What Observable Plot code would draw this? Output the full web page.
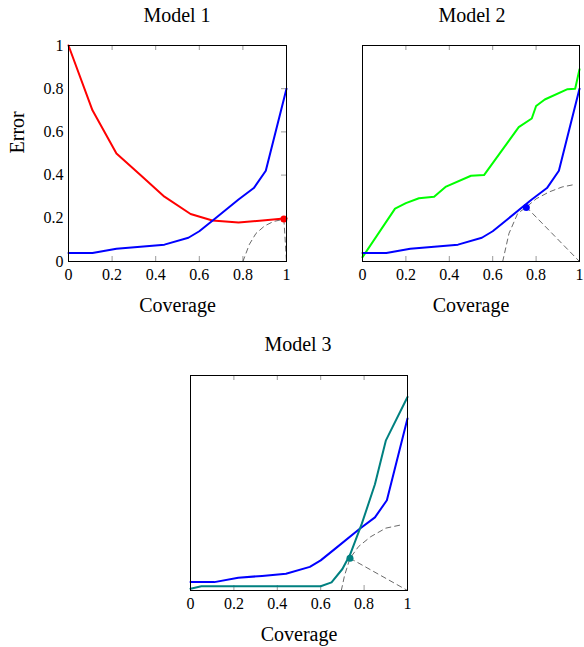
<!DOCTYPE html>
<html><head><meta charset="utf-8">
<script src="https://cdn.jsdelivr.net/npm/d3@7"></script>
<script src="https://cdn.jsdelivr.net/npm/@observablehq/plot@0.6"></script>
<style>
body{margin:0;background:#fff;font-family:"Liberation Serif",serif;}
#root{position:relative;width:584px;height:647px;overflow:hidden;}
.title{position:absolute;font-size:20px;line-height:20px;text-align:center;width:200px;color:#000;}
.panel{position:absolute;}
.panel svg{max-width:none !important;display:block;}
</style></head><body><div id="root"></div>
<script>
// ---- tick labels ----
const coverageTicks = [0, 0.2, 0.4, 0.6, 0.8, 1];
const errorTicks = [0, 0.2, 0.4, 0.6, 0.8, 1];
const innerTicks = [0.2, 0.4, 0.6, 0.8];
const titles = ["Model 1", "Model 2", "Model 3"];

// ---- shared blue series (all panels) ----
const blueX = [0, 0.11, 0.22, 0.33, 0.44, 0.55, 0.60, 0.67, 0.78, 0.85, 0.905, 1];
const blueY = [0.039, 0.039, 0.059, 0.068, 0.078, 0.11, 0.14, 0.197, 0.287, 0.34, 0.42, 0.80];

// ---- Model 1 red ----
const redX = [0, 0.11, 0.22, 0.33, 0.44, 0.56, 0.66, 0.78, 0.89, 1];
const redY = [1, 0.70, 0.50, 0.40, 0.30, 0.22, 0.19, 0.18, 0.19, 0.20];
const m1CurveX = [0.80, 0.83, 0.86, 0.90, 0.94, 0.988];
const m1CurveY = [0, 0.08, 0.13, 0.165, 0.185, 0.196];
const m1SegX = [0.988, 1];
const m1SegY = [0.196, 0];
const m1Dot = [0.988, 0.197];

// ---- Model 2 green ----
const greenX = [0, 0.15, 0.2, 0.26, 0.33, 0.385, 0.5, 0.56, 0.72, 0.78, 0.80, 0.84, 0.945, 0.98, 1];
const greenY = [0.02, 0.245, 0.27, 0.293, 0.30, 0.347, 0.397, 0.40, 0.622, 0.662, 0.72, 0.75, 0.798, 0.80, 0.89];
const m2CurveX = [0.646, 0.675, 0.715, 0.755, 0.80, 0.86, 0.92, 0.97];
const m2CurveY = [0, 0.13, 0.222, 0.252, 0.29, 0.322, 0.345, 0.355];
const m2SegX = [0.755, 1];
const m2SegY = [0.252, 0];
const m2Dot = [0.755, 0.25];

// ---- Model 3 teal ----
const tealX = [0, 0.05, 0.60, 0.65, 0.70, 0.735, 0.79, 0.85, 0.90, 1];
const tealY = [0.008, 0.02, 0.02, 0.038, 0.1, 0.166, 0.312, 0.494, 0.697, 0.90];
const m3CurveX = [0.695, 0.71, 0.735, 0.775, 0.83, 0.90, 0.97];
const m3CurveY = [0, 0.07, 0.15, 0.205, 0.25, 0.29, 0.305];
const m3SegX = [0.735, 1];
const m3SegY = [0.15, 0];
const m3Dot = [0.735, 0.15];

const zip = (xs, ys) => xs.map((x, i) => ({x, y: ys[i]}));

function panel({width, height, mt, mb, ml, mr, showY, series, curve, seg, dot, dotColor}) {
  const FW = width - ml - mr, FH = height - mt - mb;
  const marks = [
    Plot.tickX(innerTicks, {x: d => d, stroke: "#9a9a9a", strokeWidth: 1, insetTop: FH - 5}),
    Plot.tickX(innerTicks, {x: d => d, stroke: "#9a9a9a", strokeWidth: 1, insetBottom: FH - 5}),
  ];
  if (showY) marks.push(Plot.tickY(innerTicks, {y: d => d, stroke: "#9a9a9a", strokeWidth: 1, insetLeft: FW - 5}));
  marks.push(
    Plot.line(curve, {x: "x", y: "y", stroke: "#444", strokeWidth: 0.8, strokeDasharray: "5,4"}),
    Plot.line(seg, {x: "x", y: "y", stroke: "#444", strokeWidth: 0.8, strokeDasharray: "5,4"})
  );
  for (const s of series) marks.push(Plot.line(s.data, {x: "x", y: "y", stroke: s.color, strokeWidth: 2}));
  marks.push(Plot.dot([{x: dot[0], y: dot[1]}], {x: "x", y: "y", r: 3.5, fill: dotColor, stroke: null}));
  marks.push(Plot.frame({stroke: "#000", strokeWidth: 1}));
  marks.push(Plot.axisX(coverageTicks, {anchor: "bottom", tickSize: 0, tickPadding: 7, tickFormat: d => String(d), label: null, fontSize: 16}));
  marks.push(Plot.text(["Coverage"], {frameAnchor: "bottom", dy: 50, fontSize: 20, text: d => d}));
  if (showY) {
    marks.push(Plot.axisY(errorTicks, {anchor: "left", tickSize: 0, tickPadding: 5, tickFormat: d => String(d), label: null, fontSize: 16}));
    marks.push(Plot.text(["Error"], {frameAnchor: "left", dx: -51, rotate: -90, fontSize: 20, text: d => d}));
  }
  return Plot.plot({
    width, height, marginTop: mt, marginBottom: mb, marginLeft: ml, marginRight: mr,
    x: {domain: [0, 1], axis: null},
    y: {domain: [0, 1], axis: null},
    style: {fontFamily: "Liberation Serif", fontSize: "16px", color: "#000", background: "transparent", maxWidth: "none"},
    marks
  });
}

const root = document.getElementById("root");
function place(el, left, top, w) {
  const d = document.createElement("div");
  d.className = "panel"; d.style.left = left + "px"; d.style.top = top + "px"; d.style.width = w + "px";
  d.appendChild(el); root.appendChild(d);
}
function title(text, cx, top) {
  const t = document.createElement("div");
  t.className = "title"; t.textContent = text;
  t.style.left = (cx - 100) + "px"; t.style.top = top + "px";
  root.appendChild(t);
}

place(panel({width: 300, height: 291, mt: 15, mb: 60, ml: 68, mr: 14, showY: true,
  series: [{data: zip(redX, redY), color: "#ff0000"}, {data: zip(blueX, blueY), color: "#0000ff"}],
  curve: zip(m1CurveX, m1CurveY), seg: zip(m1SegX, m1SegY), dot: m1Dot, dotColor: "#ff0000"}), 0, 30, 300);

place(panel({width: 299, height: 291, mt: 15, mb: 60, ml: 68, mr: 14, showY: false,
  series: [{data: zip(greenX, greenY), color: "#00ff00"}, {data: zip(blueX, blueY), color: "#0000ff"}],
  curve: zip(m2CurveX, m2CurveY), seg: zip(m2SegX, m2SegY), dot: m2Dot, dotColor: "#0000ff"}), 294, 30, 299);

place(panel({width: 299, height: 290, mt: 15, mb: 60, ml: 68, mr: 14, showY: false,
  series: [{data: zip(blueX, blueY), color: "#0000ff"}, {data: zip(tealX, tealY), color: "#008080"}],
  curve: zip(m3CurveX, m3CurveY), seg: zip(m3SegX, m3SegY), dot: m3Dot, dotColor: "#008080"}), 122, 360, 299);

title(titles[0], 177, 5);
title(titles[1], 472, 5);
title(titles[2], 298, 334);
</script>
</body></html>
